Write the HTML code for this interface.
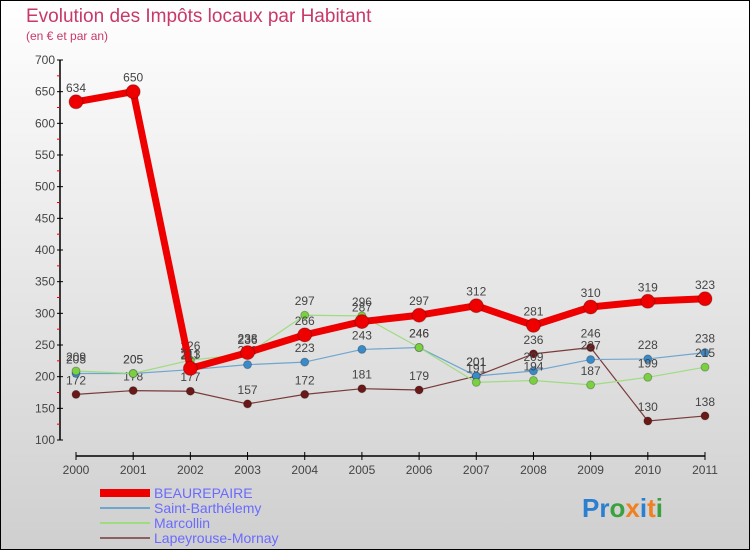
<!DOCTYPE html>
<html><head><meta charset="utf-8"><style>
html,body{margin:0;padding:0}
body{width:750px;height:550px;overflow:hidden;font-family:"Liberation Sans",sans-serif}
</style></head><body>
<svg id="chart" width="750" height="550" xmlns="http://www.w3.org/2000/svg" font-family="Liberation Sans, sans-serif">
<defs><linearGradient id="bg" x1="0" y1="0" x2="0" y2="1"><stop offset="0" stop-color="#ffffff"/><stop offset="1" stop-color="#cfcfcf"/></linearGradient></defs>
<rect x="0.5" y="0.5" width="749" height="549" fill="url(#bg)" stroke="#000"/>
<text x="26" y="22" font-size="19" fill="#c8386a">Evolution des Impôts locaux par Habitant</text>
<text x="26" y="40" font-size="12" fill="#c8386a">(en € et par an)</text>
<g id="axes"></g>
<g id="series"></g>
<g id="legend">
<rect x="100" y="489" width="50" height="8" fill="#e00"/>
<text x="154" y="498" font-size="14" fill="#6a6aff">BEAUREPAIRE</text>
<rect x="100" y="507" width="50" height="2" fill="#6fa6d0"/>
<text x="154" y="513" font-size="14" fill="#6a6aff">Saint-Barthélemy</text>
<rect x="100" y="522" width="50" height="2" fill="#9fdc80"/>
<text x="154" y="528" font-size="14" fill="#6a6aff">Marcollin</text>
<rect x="100" y="537" width="50" height="2" fill="#8a6060"/>
<text x="154" y="543" font-size="14" fill="#6a6aff">Lapeyrouse-Mornay</text>
</g>
<text x="582" y="517" font-size="26" font-weight="bold"><tspan fill="#2a7fd0">Pr</tspan><tspan fill="#3aa040">o</tspan><tspan fill="#f08020">x</tspan><tspan fill="#2a7fd0">i</tspan><tspan fill="#f08020">t</tspan><tspan fill="#3aa040">i</tspan></text>
</svg>
<script>
const years=["2000","2001","2002","2003","2004","2005","2006","2007","2008","2009","2010","2011"];
const yTicks=[100,150,200,250,300,350,400,450,500,550,600,650,700];
const beaurepaire=[634,650,213,238,266,287,297,312,281,310,319,323];
const saintBarthelemy=[205,205,211,219,223,243,246,201,209,227,228,238];
const marcollin=[209,205,226,236,297,296,246,191,194,187,199,215];
const lapeyrouse=[172,178,177,157,172,181,179,201,236,246,130,138];
const NS="http://www.w3.org/2000/svg";
const x=i=>76+i*(705-76)/11;
const y=v=>440-(v-100)*(380/600);
function mk(tag,attrs,parent){const e=document.createElementNS(NS,tag);for(const k in attrs)e.setAttribute(k,attrs[k]);parent.appendChild(e);return e;}
const ax=document.getElementById('axes');
let a=mk('line',{x1:60,y1:60,x2:60,y2:440,stroke:'#000','stroke-width':1.5},ax);


a=mk('line',{x1:76,y1:456,x2:705,y2:456,stroke:'#000','stroke-width':1.5},ax);


yTicks.forEach((v,i)=>{
 mk('line',{x1:57,x2:63,y1:y(v),y2:y(v),stroke:'#000'},ax);
 if(i<yTicks.length-1){mk('line',{x1:57,x2:60,y1:y(v+25),y2:y(v+25),stroke:'#e00'},ax);}
 const t=mk('text',{x:55,y:y(v)+4,'text-anchor':'end','font-size':12,fill:'#444'},ax);
 
 
 t.textContent=v;
});
years.forEach((yr,i)=>{
 mk('line',{x1:x(i),x2:x(i),y1:452,y2:460,stroke:'#000'},ax);
 const t=mk('text',{x:x(i),y:466+8,'text-anchor':'middle','font-size':12,fill:'#444'},ax);
 
 
 t.textContent=yr;
});
const sg=document.getElementById('series');
function draw(vals,color,dot,w,r,name){
 const g=mk('g',{},sg);
 
 
 const l=mk('polyline',{points:vals.map((v,i)=>x(i)+','+y(v)).join(' '),fill:'none',stroke:color,'stroke-width':w,'stroke-linejoin':'round'},g);
 
 
 vals.forEach((v,i)=>{
  const c=mk('circle',{cx:x(i),cy:y(v),r:r,fill:dot,stroke:'rgba(0,0,0,0.25)'},g);
  
  
  const t=mk('text',{x:x(i),y:y(v)-10,'text-anchor':'middle','font-size':12,fill:'#444'},g);
  
  
  t.textContent=v;
 });
}
draw(lapeyrouse,'#7a3a3a','#6a1818',1.2,4,'lapeyrouse-mornay');
draw(saintBarthelemy,'#6fa6d0','#3a8ac8',1.2,4,'saint-barthelemy');
draw(marcollin,'#9fdc80','#7ad040',1.2,4,'marcollin');
draw(beaurepaire,'#ee0000','#ee0000',7,7,'beaurepaire');
</script>
</body></html>
